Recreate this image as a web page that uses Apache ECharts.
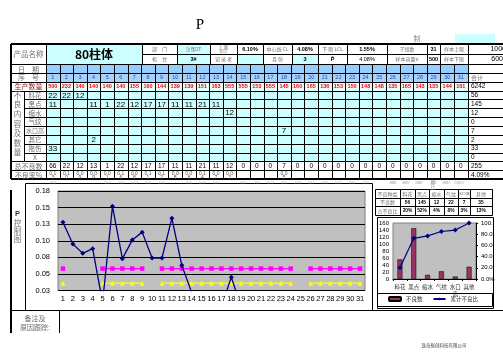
<!DOCTYPE html>
<html><head><meta charset="utf-8">
<script src="https://cdn.jsdelivr.net/npm/echarts@6/dist/echarts.min.js"></script>
<style>html,body{margin:0;padding:0;background:#fff;overflow:hidden}#c{width:503px;height:356px}</style>
</head><body><div id="c"></div>
<script>
// ---------------- data ----------------
const dayLabels = ['1','2','3','4','5','6','7','8','9','10','11','12','13','14','15','16','17','18','19','20','21','22','23','24','25','26','27','28','29','30','31'];
const production = [500,232,140,140,140,140,155,160,144,139,139,151,163,555,555,153,555,145,160,165,136,153,150,148,148,135,165,143,135,144,161];
const defectTypes = ['料花','黑点','缩水','气纹','水口高','其它','拖伤','Ⅹ'];
const liaohuaDays = [1,2,3];              const liaohuaCounts = [22,22,12];
const heidianDays = [1,4,5,6,7,8,9,10,11,12,13]; const heidianCounts = [11,11,1,22,12,17,17,11,11,21,11];
const suoshuiDays = [14];                 const suoshuiCounts = [12];
const qiwenDays = [];                     const qiwenCounts = [];
const shuikouDays = [18];                 const shuikouCounts = [7];
const qitaDays = [4];                     const qitaCounts = [2];
const tuoshangDays = [1];                 const tuoshangCounts = [33];
const xDays = [];                         const xCounts = [];
const defectTotals = [66,22,12,13,1,22,12,17,17,11,11,21,11,12,0,0,0,7,0,0,0,0,0,0,0,0,0,0,0,0,0];
const rateLabels = ['0.13','0.10','0.09','0.09','0.01','0.16','0.08','0.11','0.12','0.08','0.08','0.14','0.07','0.02','','','','0.05','','','','','','','','','','','','',''];
const sumColumn = ['', '合计', '6242', '56', '145', '12', '0', '7', '2', '33', '0', '255', '4.09%'];

const pValues   = [0.128,0.095,0.081,0.088,0.007,0.152,0.073,0.101,0.113,0.074,0.074,0.134,0.063,0.022,0,0,0,0.045,0,0,0,0,0,0,0,0,0,0,0,0,0];
const uclValues = [0.058,null,null,null,0.058,0.058,0.058,0.058,0.058,null,0.058,0.058,0.058,0.058,0.058,0.058,0.058,0.058,0.058,0.058,0.058,0.058,0.058,0.058,null,0.058,0.058,0.058,0.058,0.058,0.058];
const lclValues = [0.036,null,null,null,0.036,0.036,0.036,0.036,0.036,null,0.036,0.036,0.036,0.036,0.036,0.036,0.036,0.036,0.036,0.036,0.036,0.036,0.036,0.036,null,0.036,0.036,0.036,0.036,0.036,0.036];
const pTickLabels = ['0.03','0.05','0.08','0.10','0.13','0.15','0.18'];

const paretoCats = ['料花','黑点','缩水','气纹','水口\n高','其他'];
const paretoTableCats = ['料花','黑点','缩水','气纹','水口高','其他'];
const paretoCounts = [56,145,12,22,7,35];
const paretoShare = ['20%','52%','4%','8%','3%','13%'];
const paretoCumPct = [20.2,72.6,76.9,84.8,87.4,100];
const countTickLabels = ['0','20','40','60','80','100','120','140','160'];
const cumTickLabels = ['0.0%','20.0','40.0','60.0','80.0','100.'];

// ---------------- drawing helpers (layout only) ----------------
const G = [];
const CJK = '"Noto Sans CJK SC","Noto Sans CJK JP",sans-serif';
const SANS = '"Liberation Sans",Arial,sans-serif';
const GRAY = '#707070';
const CY = '#ccffff';
const R = v => Math.round(v) + 0.5;
function box(x1,y1,x2,y2,fill,stroke){
  const a=R(x1),b=R(y1),c=R(x2),d=R(y2);
  G.push({type:'rect',silent:true,z:1,shape:{x:a,y:b,width:c-a,height:d-b},
    style:{fill:fill||'none',stroke:stroke===undefined?'#000':stroke,lineWidth:1}});
}
function text(x,y,s,o){
  o=o||{};
  G.push({type:'text',silent:true,z:10,style:{text:s,x:x,y:y,align:o.align||'center',verticalAlign:'middle',
    textAlign:o.align||'center',textVerticalAlign:'middle',
    fill:o.color||'#000',fontSize:o.size||7,fontFamily:o.family||SANS,fontWeight:o.weight||'normal',lineHeight:o.lh||undefined}});
}
function hline(x1,x2,y,lw){lw=lw||1;const yy=lw%2?R(y):Math.round(y);G.push({type:'line',silent:true,z:8,shape:{x1:x1,y1:yy,x2:x2,y2:yy},style:{stroke:'#000',lineWidth:lw}});}
function vline(x,y1,y2,lw){lw=lw||1;const xx=lw%2?R(x):Math.round(x);G.push({type:'line',silent:true,z:8,shape:{x1:xx,y1:y1,x2:xx,y2:y2},style:{stroke:'#000',lineWidth:lw}});}

// title
text(200,25,'P',{size:15,family:'"Liberation Serif",serif'});
text(417,38,'制',{size:7,family:CJK,color:'#888'});
G.push({type:'rect',silent:true,z:1,shape:{x:455,y:34,width:40,height:9},style:{fill:CY}});

// header block
box(11,44,46,64,'#fff'); text(28.5,54,'产品名称',{family:CJK,size:7.5,color:GRAY});
box(46,44,142,64,CY);   text(94,54,'80柱体',{family:CJK,size:12,weight:'bold'});
const hdr1 = [[142,177,'部　门',0,0],[177,210,'注塑2F',1,0],[210,237,'上 限\nUCL',0,0],[237,263,'6.10%',0,1],[263,292,'中心线 CL',0,0],[292,318,'4.08%',0,1],[318,347,'下 限 LCL',0,0],[347,387,'1.55%',0,1],[387,427,'子组数',0,0],[427,440,'31',0,1],[440,468,'样本上限',0,0]];
const hdr2 = [[142,177,'机　台',0,0],[177,210,'3#',1,1],[210,237,'记 录 者',0,0],[237,263,'',1,0],[263,292,'月 份',0,0],[292,318,'3',1,1],[318,347,'P̄',0,1],[347,387,'4.08%',0,0],[387,427,'样本容量n',0,0],[427,440,'500',0,1],[440,468,'样本下限',0,0]];
function hdrRow(list,y1,y2){
  list.forEach(c=>{
    box(c[0],y1,c[1],y2,c[3]?CY:'#fff');
    const isNum=/[0-9P]/.test(c[2]) && !/[\u4e00-\u9fff]/.test(c[2]);
    text((c[0]+c[1])/2,(y1+y2)/2+0.5,c[2],{size:c[2].indexOf('\n')>=0?4.2:(isNum?5.5:5),lh:c[2].indexOf('\n')>=0?4.6:undefined,
      family:isNum?SANS:CJK,color:isNum?'#000':GRAY,weight:c[4]?'bold':'normal'});
  });
}
hdrRow(hdr1,44,54); hdrRow(hdr2,54,64);
box(468,44,530,54,'#fff'); text(506,49.5,'1000',{align:'right',size:7});
box(468,54,530,64,'#fff'); text(503,59.5,'600',{align:'right',size:7});

// main grid
const dx = i => 46 + 13.6*i;
const ry = k => 64 + 8.85*k;
const rowLabels = ['日　期','序　号','生产数量'];
function countsFor(days,counts){const a=new Array(31).fill(null);days.forEach((d,j)=>{a[d-1]=counts[j];});return a;}
const defectRows = [
  countsFor(liaohuaDays,liaohuaCounts), countsFor(heidianDays,heidianCounts), countsFor(suoshuiDays,suoshuiCounts),
  countsFor(qiwenDays,qiwenCounts), countsFor(shuikouDays,shuikouCounts), countsFor(qitaDays,qitaCounts),
  countsFor(tuoshangDays,tuoshangCounts), countsFor(xDays,xCounts)];

for(let k=0;k<13;k++){
  const y1=ry(k),y2=ry(k+1),cy=(y1+y2)/2+0.5;
  if(k<3||k>10){
    box(11,y1,46,y2,'#fff');
    const lbl = k<3?rowLabels[k]:(k===11?'总不良数':'不良率%');
    text(28.5,cy,lbl,{family:CJK,size:7,color:k===2?'#8b1a1a':GRAY});
  } else {
    box(24,y1,46,y2,'#fff');
    text(35,cy,defectTypes[k-3],{family:CJK,size:k===7?6:6.5,color:GRAY});
  }
  for(let i=0;i<31;i++){
    const x1=dx(i),x2=dx(i+1),cx=(x1+x2)/2;
    let fill='#fff';
    if(k===0) fill='#99ccff'; else if(k===1) fill='#a9d2fa'; else if(k===2) fill='#e8ffff'; else if(k>=3&&k<=10) fill=CY;
    box(x1,y1,x2,y2,fill);
    if(k===1) text(cx,cy,dayLabels[i],{size:5.5,color:'#1d4fa8'});
    else if(k===2) text(cx,cy,String(production[i]),{size:5.5,color:'#ff0000',weight:'bold'});
    else if(k>=3&&k<=10){const v=defectRows[k-3][i]; if(v!=null) text(cx,cy,String(v),{size:8});}
    else if(k===11) text(cx,cy,String(defectTotals[i]),{size:6.5});
    else if(k===12 && rateLabels[i]){
      const s=rateLabels[i];
      text(cx,y1+3,s.slice(0,3),{size:5,color:'#555'});
      text(cx,y2-1.5,s.slice(3),{size:5,color:'#555'});
    }
  }
  box(dx(31),y1,530,y2,'#fff');
  if(sumColumn[k]) text(471,cy,sumColumn[k],{align:'left',size:k===1?6:6.5,family:k===1?CJK:SANS,color:k===1?GRAY:'#000'});
}
box(11,ry(3),24,ry(11),'#fff');
'不良内容及数量'.split('').forEach((ch,j)=>text(17.5,95+j*9.6,ch,{family:CJK,size:7.5,color:GRAY}));
hline(11,503,44,2); vline(11,44,179,2); hline(11,503,179,2);

// overflow marks under the table
[1,5,6,7,8,9,11,12,13,15,16,17,18,19,20,21,22,23,24,26,27,28,29,30,31].forEach(d=>text((dx(d-1)+dx(d))/2,182.5,'###',{size:4,color:'#999'}));
[393,405,418,445,457].forEach(x=>text(x,182.5,'###',{size:4,color:'#999'}));
text(433,182,'翻',{size:4.5,family:CJK,color:'#999'}); text(433,187,'比',{size:4.5,family:CJK,color:'#999'});

// chart section frames
vline(11,190,333,2);
box(25,183,372,310,'none');
text(17.5,214,'P',{size:7.5,weight:'bold',color:'#333'});
['控','制','图'].forEach((ch,j)=>text(17.5,223+j*8.2,ch,{family:CJK,size:7.5,color:GRAY}));

// pareto small table
const pcols=[375,400,415,429,444,458,470,492];
const prows=[189,197.5,206,214.5];
const ptab=[['不良种类'].concat(paretoTableCats),['不良数'].concat(paretoCounts.map(String)),['占不良比'].concat(paretoShare)];
for(let r=0;r<3;r++){for(let c=0;c<7;c++){
  box(pcols[c],prows[r],pcols[c+1],prows[r+1],'#fff');
  const s=ptab[r][c]; const cjk=/[\u4e00-\u9fff]/.test(s);
  text((pcols[c]+pcols[c+1])/2,(prows[r]+prows[r+1])/2+0.5,s,{size:cjk?(s.length>2&&c>0?3.8:5):4.8,family:cjk?CJK:SANS,color:cjk?GRAY:'#000',weight:cjk?'normal':'bold'});
}}
box(377,217,493,308,'none');
box(377,293,492,306,'none');

// bottom
hline(11,503,310,1);
vline(59,310,333,1);
text(35,318,'备注及',{family:CJK,size:7,color:GRAY});
text(35,327,'原因跟踪:',{family:CJK,size:7,color:GRAY});
text(444,345,'珠海振创科技有限公司',{family:CJK,size:4.5,color:'#444'});

// ---------------- chart ----------------
const chart = echarts.init(document.getElementById('c'), null, {renderer:'canvas', width:503, height:356});
chart.setOption({
  animation:false,
  backgroundColor:'#fff',
  graphic:{elements:G},
  grid:[
    {left:58,top:191,width:307,height:99.5,show:true,backgroundColor:'#c0c0c0',borderColor:'#808080',borderWidth:1,outerBoundsMode:'none',containLabel:false},
    {left:393,top:223,width:83,height:56,show:true,backgroundColor:'#c0c0c0',borderColor:'#808080',borderWidth:1,outerBoundsMode:'none',containLabel:false}
  ],
  xAxis:[
    {gridIndex:0,type:'category',data:dayLabels,boundaryGap:true,axisTick:{show:false},axisLine:{show:false},splitLine:{show:false},
      axisLabel:{interval:0,fontSize:7.5,color:'#000',margin:4,fontFamily:SANS}},
    {gridIndex:1,type:'category',data:paretoCats,boundaryGap:true,axisTick:{show:true,length:2,lineStyle:{color:'#000'}},axisLine:{show:true,lineStyle:{color:'#000'}},splitLine:{show:false},
      axisLabel:{interval:0,fontSize:5.5,color:'#333',margin:4,fontFamily:CJK,lineHeight:7}}
  ],
  yAxis:[
    {gridIndex:0,type:'value',min:0.025,max:0.175,interval:0.025,axisLine:{show:false},axisTick:{show:false},
      splitLine:{show:true,lineStyle:{color:'#000',width:1}},
      axisLabel:{fontSize:7.5,color:'#000',margin:8,fontFamily:SANS,formatter:v=>pTickLabels[Math.round((v-0.025)/0.025)]}},
    {gridIndex:1,type:'value',min:0,max:160,interval:20,axisLine:{show:false},axisTick:{show:false},splitLine:{show:false},
      axisLabel:{fontSize:6,color:'#000',margin:4,fontFamily:SANS,formatter:v=>countTickLabels[Math.round(v/20)]}},
    {gridIndex:1,type:'value',position:'right',min:0,max:100,interval:20,axisLine:{show:true,lineStyle:{color:'#000'}},axisTick:{show:true,length:2,lineStyle:{color:'#000'}},splitLine:{show:false},
      axisLabel:{fontSize:6,color:'#000',margin:5,fontFamily:SANS,formatter:v=>cumTickLabels[Math.round(v/20)]}}
  ],
  legend:{left:388,top:296,itemWidth:12,itemHeight:4,itemGap:10,padding:0,
    textStyle:{fontSize:5.5,fontFamily:CJK,color:'#333'},data:['不良数','累计不良比']},
  series:[
    {type:'line',xAxisIndex:0,yAxisIndex:0,data:uclValues,color:'#ff00ff',lineStyle:{width:1.2},symbol:'rect',symbolSize:4.5,showAllSymbol:true,itemStyle:{color:'#ff00ff'},z:3},
    {type:'line',xAxisIndex:0,yAxisIndex:0,data:lclValues,color:'#ffff00',lineStyle:{width:1.2},symbol:'triangle',symbolSize:5,showAllSymbol:true,itemStyle:{color:'#ffff00'},z:3},
    {type:'line',xAxisIndex:0,yAxisIndex:0,data:pValues,color:'#000080',lineStyle:{width:1.3},symbol:'diamond',symbolSize:5,showAllSymbol:true,itemStyle:{color:'#000080'},z:4,clip:true},
    {name:'不良数',type:'bar',xAxisIndex:1,yAxisIndex:1,data:paretoCounts,barWidth:5,itemStyle:{color:'#993366',borderColor:'#000',borderWidth:0.5}},
    {name:'累计不良比',type:'line',xAxisIndex:1,yAxisIndex:2,data:paretoCumPct,color:'#000080',lineStyle:{width:1.2},symbol:'diamond',symbolSize:5,itemStyle:{color:'#000080'}}
  ]
});
</script></body></html>
